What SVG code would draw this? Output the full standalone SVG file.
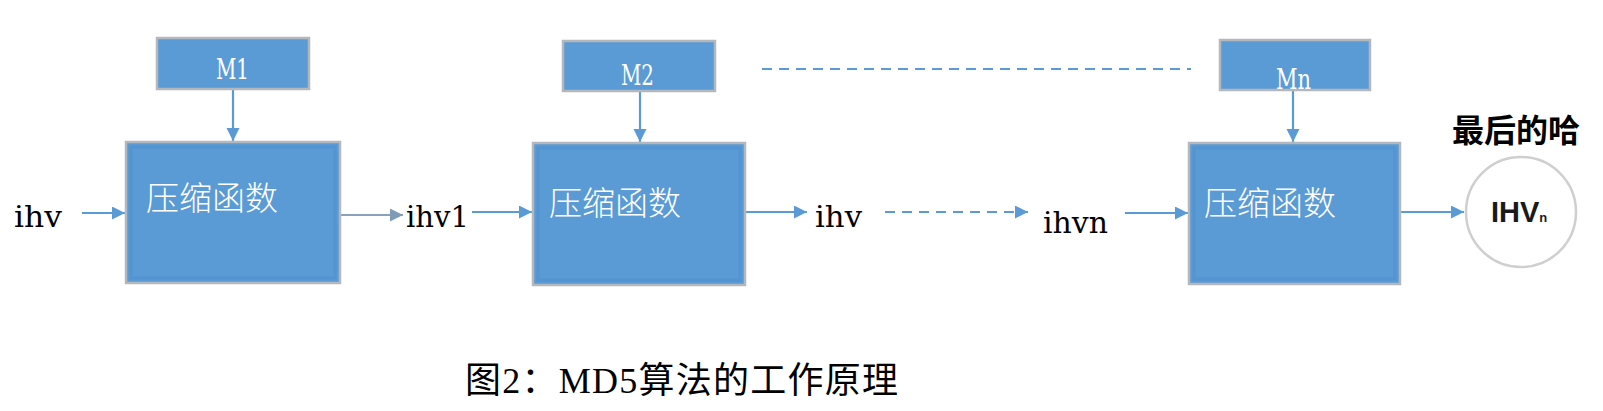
<svg xmlns="http://www.w3.org/2000/svg" width="1603" height="411" viewBox="0 0 1603 411">
<defs>
<style>
.box{fill:#5b9bd5;stroke:#b4b8bc;stroke-width:2.5}
.inner{fill:none;stroke:#4f8fd0;stroke-width:3;opacity:0.6}
.btxt{font-family:"Noto Sans CJK SC",sans-serif;font-size:33px;fill:#ffffff;font-weight:300}
.mtxt{font-family:"DejaVu Serif","Liberation Serif",serif;font-size:28px;fill:#ffffff}
.lbl{font-family:"DejaVu Serif","Liberation Serif",serif;font-size:30px;fill:#000000}
.conn{stroke:#5b9bd5;stroke-width:2.2;fill:none}
.dash{stroke-dasharray:10,7}
</style>
<marker id="ah" markerUnits="userSpaceOnUse" markerWidth="14" markerHeight="14" refX="13" refY="6.5" orient="auto">
<path d="M0,0 L13,6.5 L0,13 Z" fill="#5b9bd5"/>
</marker>
<marker id="ahg" markerUnits="userSpaceOnUse" markerWidth="14" markerHeight="14" refX="13" refY="6.5" orient="auto">
<path d="M0,0 L13,6.5 L0,13 Z" fill="#7f9bb8"/>
</marker>
</defs>
<rect width="1603" height="411" fill="#ffffff"/>

<g id="connectors">
<line class="conn" x1="82" y1="213" x2="125" y2="213" marker-end="url(#ah)"/>
<line class="conn" x1="233" y1="89" x2="233" y2="141" marker-end="url(#ah)"/>
<line class="conn" x1="340" y1="215" x2="403" y2="215" style="stroke:#8aa3bd" marker-end="url(#ahg)"/>
<line class="conn" x1="472" y1="212" x2="532" y2="212" marker-end="url(#ah)"/>
<line class="conn" x1="640" y1="91" x2="640" y2="142" marker-end="url(#ah)"/>
<line class="conn" x1="745" y1="212" x2="807" y2="212" marker-end="url(#ah)"/>
<line class="conn dash" x1="885" y1="212" x2="1028" y2="212" marker-end="url(#ah)"/>
<line class="conn dash" x1="762" y1="69" x2="1191" y2="69"/>
<line class="conn" x1="1125" y1="213" x2="1188" y2="213" marker-end="url(#ah)"/>
<line class="conn" x1="1293" y1="90" x2="1293" y2="142" marker-end="url(#ah)"/>
<line class="conn" x1="1400" y1="212" x2="1464" y2="212" marker-end="url(#ah)"/>
</g>

<g id="m1">
<rect class="box" x="157" y="38" width="152" height="51"/>
<text class="mtxt" x="216" y="79" textLength="33" lengthAdjust="spacingAndGlyphs">M1</text>
</g>
<g id="m2">
<rect class="box" x="563" y="41" width="152" height="50"/>
<text class="mtxt" x="621" y="85" textLength="33" lengthAdjust="spacingAndGlyphs">M2</text>
</g>
<g id="mn">
<rect class="box" x="1220" y="40" width="150" height="50"/>
<text class="mtxt" x="1276" y="89" textLength="35" lengthAdjust="spacingAndGlyphs">Mn</text>
</g>

<g id="box1">
<rect class="box" x="126" y="142" width="214" height="141"/>
<rect class="inner" x="131" y="147" width="204" height="131"/>
<text class="btxt" x="146" y="210">压缩函数</text>
</g>
<g id="box2">
<rect class="box" x="533" y="143" width="212" height="142"/>
<rect class="inner" x="538" y="148" width="202" height="132"/>
<text class="btxt" x="549" y="215">压缩函数</text>
</g>
<g id="box3">
<rect class="box" x="1189" y="143" width="211" height="141"/>
<rect class="inner" x="1194" y="148" width="201" height="131"/>
<text class="btxt" x="1204" y="215">压缩函数</text>
</g>

<g id="ihv0"><text class="lbl" x="14" y="227" textLength="48" lengthAdjust="spacingAndGlyphs">ihv</text></g>
<g id="ihv1"><text class="lbl" x="406" y="227" textLength="63" lengthAdjust="spacingAndGlyphs">ihv1</text></g>
<g id="ihv2"><text class="lbl" x="815" y="227" textLength="47" lengthAdjust="spacingAndGlyphs">ihv</text></g>
<g id="ihvn"><text class="lbl" x="1043" y="233" textLength="65" lengthAdjust="spacingAndGlyphs">ihvn</text></g>

<g id="final">
<text x="1452" y="142" font-family="'Noto Sans CJK SC',sans-serif" font-size="32" font-weight="700" fill="#000000">最后的哈</text>
<circle cx="1521" cy="212" r="55" fill="#ffffff" stroke="#cfcfcf" stroke-width="2.5"/>
<text x="1491" y="222" font-family="'Liberation Sans',Arial,sans-serif" font-size="29" font-weight="700" fill="#1a1a1a">IHV<tspan font-size="13">n</tspan></text>
</g>

<g id="caption">
<text x="465" y="393" font-family="'Liberation Serif','Noto Sans CJK SC',serif" font-size="36" fill="#000000" textLength="433" lengthAdjust="spacing">图2：MD5算法的工作原理</text>
</g>
</svg>
